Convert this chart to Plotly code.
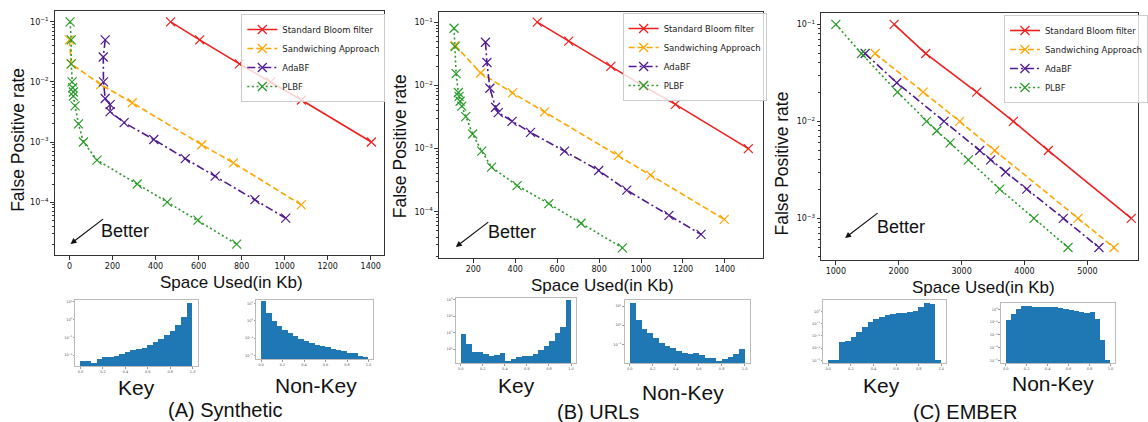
import plotly.graph_objects as go

W, H = 1148, 422

# ---------------- data ----------------
fpr_bloom = [0.1, 0.05, 0.02, 0.01, 0.005, 0.001]

# (A) Synthetic
a_bloom_x = [470, 605, 790, 935, 1078, 1403]
a_sand_x = [0, 8, 146, 292, 615, 762, 1077]
a_sand_y = [0.05, 0.02, 0.009, 0.0045, 0.0009, 0.00045, 0.00009]
a_ada_x = [166, 157, 158, 166, 189, 189, 254, 392, 538, 677, 862, 1005]
a_ada_y = [0.05, 0.026, 0.01, 0.0053, 0.0042, 0.0032, 0.0021, 0.0011, 0.00053, 0.00027, 0.00011, 0.000054]
a_plbf_x = [3, 8, 8, 12, 15, 18, 18, 26, 42, 65, 128, 315, 454, 597, 777]
a_plbf_y = [0.1, 0.05, 0.02, 0.01, 0.008, 0.0068, 0.0058, 0.004, 0.002, 0.001, 0.0005, 0.0002, 0.0001, 0.00005, 0.00002]

# (B) URLs
b_bloom_x = [505, 655, 856, 1006, 1164, 1512]
b_sand_x = [113, 235, 387, 540, 892, 1046, 1397]
b_sand_y = [0.043, 0.0157, 0.0076, 0.0038, 0.00078, 0.00038, 0.000076]
b_ada_x = [258, 265, 279, 306, 319, 385, 473, 635, 798, 932, 1133, 1286]
b_ada_y = [0.048, 0.023, 0.009, 0.0045, 0.0037, 0.0027, 0.0018, 0.00091, 0.00045, 0.00022, 0.000088, 0.000044]
b_plbf_x = [108, 113, 118, 129, 132, 137, 145, 164, 197, 240, 287, 409, 560, 714, 911]
b_plbf_y = [0.08, 0.041, 0.0153, 0.0077, 0.0067, 0.0056, 0.0047, 0.0032, 0.0017, 0.00091, 0.00051, 0.00026, 0.000135, 0.000066, 0.000027]

# (C) EMBER
c_bloom_x = [1927, 2430, 3240, 3823, 4379, 5698]
c_sand_x = [1625, 2388, 2970, 3526, 4851, 5423]
c_sand_y = [0.05, 0.02, 0.01, 0.005, 0.001, 0.0005]
c_ada_x = [1466, 1969, 2721, 3288, 3463, 3701, 4035, 4617, 5184]
c_ada_y = [0.05, 0.025, 0.01, 0.005, 0.004, 0.003, 0.002, 0.001, 0.0005]
c_plbf_x = [1000, 1408, 1980, 2441, 2605, 2817, 3108, 3606, 4151, 4692]
c_plbf_y = [0.1, 0.05, 0.02, 0.01, 0.008, 0.006, 0.004, 0.002, 0.001, 0.0005]

# score histograms (20 bins on [0, 1], density, log scale)
hist_bins = [0.025 + 0.05 * i for i in range(20)]
hist_a_key = [0.0048, 0.0044, 0.0034, 0.0059, 0.0074, 0.0074, 0.0092, 0.0114, 0.0142, 0.0184,
              0.0228, 0.026, 0.037, 0.052, 0.081, 0.135, 0.24, 0.50, 1.48, 8.3]
hist_a_nonkey = [14, 2.75, 1.0, 0.51, 0.30, 0.195, 0.125, 0.087, 0.064, 0.051,
                 0.041, 0.033, 0.029, 0.024, 0.021, 0.017, 0.0136, 0.0136, 0.0096, 0.0077]
hist_b_key = [7.9, 2.0, 0.66, 0.72, 0.54, 0.37, 0.47, 0.60, 0.20, 0.27,
              0.34, 0.37, 0.39, 0.54, 0.83, 1.5, 3.1, 10, 21, 1000]
hist_b_nonkey = [15, 1.8, 0.66, 0.40, 0.21, 0.12, 0.081, 0.066, 0.045, 0.036,
                 0.032, 0.036, 0.026, 0.019, 0.019, 0.013, 0.016, 0.021, 0.030, 0.059]
hist_c_key = [1e-4, 1e-4, 0.0032, 0.0036, 0.0083, 0.021, 0.055, 0.126, 0.23, 0.36,
              0.50, 0.60, 0.69, 0.72, 0.93, 1.12, 2.1, 5.1, 4.0, 1e-4]
hist_c_nonkey = [0.155, 0.41, 1.12, 1.95, 1.70, 1.51, 1.51, 1.62, 1.51, 1.51,
                 1.26, 1.0, 0.83, 0.79, 0.66, 0.55, 0.59, 0.19, 0.0037, 0.0001]

series_names = ["Standard Bloom filter", "Sandwiching Approach", "AdaBF", "PLBF"]
panel_titles = ["(A) Synthetic", "(B) URLs", "(C) EMBER"]

# ---------------- style ----------------
COLORS = ["#f01e1e", "#ffa500", "#4f1a8f", "#2a9a2a"]
DASHES = ["solid", "6px,3px", "8px,3px,2px,3px", "2px,2.6px"]
TICKFONT = dict(family="DejaVu Sans", size=8, color="#111")
BIGFONT = "Liberation Sans, Arial, sans-serif"


def dx(a, b):
    return [a / W, b / W]


def dy(top, bottom):
    return [1 - bottom / H, 1 - top / H]


panels = [
    dict(xd=dx(55, 387), yd=dy(11, 255), xr=[-69, 1463], yr=[-4.88, -0.82],
         xt=[0, 200, 400, 600, 800, 1000, 1200, 1400], yt=[-4, -3, -2, -1],
         data=[(a_bloom_x, fpr_bloom), (a_sand_x, a_sand_y), (a_ada_x, a_ada_y), (a_plbf_x, a_plbf_y)],
         leg=(243, 14), ylab=(18, 140), xlab=(233, 282),
         arrow=((71, 244), (105, 218)), better=(126, 231)),
    dict(xd=dx(442, 768), yd=dy(12, 258), xr=[36, 1580], yr=[-4.73, -0.84],
         xt=[200, 400, 600, 800, 1000, 1200, 1400], yt=[-4, -3, -2, -1],
         data=[(b_bloom_x, fpr_bloom), (b_sand_x, b_sand_y), (b_ada_x, b_ada_y), (b_plbf_x, b_plbf_y)],
         leg=(627, 13), ylab=(403, 146), xlab=(607, 285),
         arrow=((459, 247), (493, 221)), better=(516, 232)),
    dict(xd=dx(827, 1146), yd=dy(13, 260), xr=[768, 5805], yr=[-3.43, -0.883],
         xt=[1000, 2000, 3000, 4000, 5000], yt=[-3, -2, -1],
         data=[(c_bloom_x, fpr_bloom), (c_sand_x, c_sand_y), (c_ada_x, c_ada_y), (c_plbf_x, c_plbf_y)],
         leg=(1011, 15), ylab=(787, 164), xlab=(990, 287),
         arrow=((851, 238), (885, 212)), better=(907, 227)),
]

hists = [
    dict(vals=hist_a_key, xd=dx(76, 199), yd=dy(300, 366), yr=[-2.62, 1.11], lab="Key", lp=(137, 387)),
    dict(vals=hist_a_nonkey, xd=dx(258, 376), yd=dy(300, 359), yr=[-2.21, 1.19], lab="Non-Key", lp=(318, 385)),
    dict(vals=hist_b_key, xd=dx(459, 580), yd=dy(298, 363), yr=[-0.84, 3.10], lab="Key", lp=(520, 385)),
    dict(vals=hist_b_nonkey, xd=dx(629, 755), yd=dy(300, 363), yr=[-1.98, 1.32], lab="Non-Key", lp=(688, 392)),
    dict(vals=hist_c_key, xd=dx(829, 953), yd=dy(300, 363), yr=[-4.22, 0.93], lab="Key", lp=(888, 385)),
    dict(vals=hist_c_nonkey, xd=dx(1008, 1123), yd=dy(303, 363), yr=[-4.2, 0.5], lab="Non-Key", lp=(1060, 383)),
]
title_pos = [(227, 410), (602, 412), (972, 412)]

fig = go.Figure()
layout = {}
annotations = []


def sup(k):
    return "10<sup>" + ("\u2212" + str(-k) if k < 0 else str(k)) + "</sup>"


def text_ann(text, pos, size, angle=0):
    return dict(text=text, x=pos[0] / W, y=1 - pos[1] / H, xref="paper", yref="paper",
                xanchor="center", yanchor="middle", showarrow=False, textangle=angle,
                font=dict(family=BIGFONT, size=size, color="#111"))


for i, p in enumerate(panels):
    n = i + 1
    xa = "x" if n == 1 else f"x{n}"
    ya = "y" if n == 1 else f"y{n}"
    legname = "legend" if n == 1 else f"legend{n}"
    for j, (xs, ys) in enumerate(p["data"]):
        fig.add_trace(go.Scatter(
            x=xs, y=ys, xaxis=xa, yaxis=ya, name=series_names[j], mode="lines+markers",
            line=dict(color=COLORS[j], width=1.6, dash=DASHES[j]),
            marker=dict(symbol="x-thin", size=9, line=dict(width=1.2, color=COLORS[j]), color=COLORS[j]),
            legend=legname, showlegend=True))
    minor_vals = [m * 10 ** k for k in range(-6, 1) for m in range(2, 10)]
    layout["xaxis" if n == 1 else f"xaxis{n}"] = dict(
        domain=p["xd"], range=p["xr"], anchor=ya, showgrid=False, zeroline=False,
        showline=True, mirror=True, linecolor="#333", linewidth=1,
        ticks="outside", ticklen=3.5, tickcolor="#333", tickvals=p["xt"],
        ticktext=[str(v) for v in p["xt"]], tickfont=TICKFONT)
    layout["yaxis" if n == 1 else f"yaxis{n}"] = dict(
        domain=p["yd"], type="log", range=p["yr"], anchor=xa, showgrid=False, zeroline=False,
        showline=True, mirror=True, linecolor="#333", linewidth=1,
        ticks="outside", ticklen=3.5, tickcolor="#333",
        tickvals=[10 ** k for k in p["yt"]], ticktext=[sup(k) for k in p["yt"]], tickfont=TICKFONT,
        minor=dict(ticks="outside", ticklen=2, tickcolor="#333", tickvals=minor_vals, showgrid=False))
    layout[legname] = dict(
        x=p["leg"][0] / W, y=1 - p["leg"][1] / H, xanchor="left", yanchor="top",
        bgcolor="rgba(255,255,255,0.8)", bordercolor="#cccccc", borderwidth=1,
        font=dict(family="DejaVu Sans", size=8.5, color="#222"), tracegroupgap=0)
    annotations.append(text_ann("False Positive rate", p["ylab"], 17.5, -90))
    annotations.append(text_ann("Space Used(in Kb)", p["xlab"], 17))
    (hx, hy), (tx, ty) = p["arrow"]
    annotations.append(dict(text="", x=hx / W, y=1 - hy / H, xref="paper", yref="paper",
                            showarrow=True, ax=tx - hx, ay=ty - hy, arrowhead=2, arrowsize=1,
                            arrowwidth=1.2, arrowcolor="#111"))
    annotations.append(text_ann("Better", p["better"], 18))
    annotations.append(text_ann(panel_titles[i], title_pos[i], 20))

for i, h in enumerate(hists):
    n = i + 4
    xa, ya = f"x{n}", f"y{n}"
    fig.add_trace(go.Bar(x=hist_bins, y=h["vals"], width=0.05, xaxis=xa, yaxis=ya,
                         marker=dict(color="#1f77b4", line=dict(width=0)), showlegend=False))
    lo, hi = h["yr"]
    decs = list(range(int(-(-lo // 1)), int(hi // 1) + 1))
    layout[f"xaxis{n}"] = dict(domain=h["xd"], range=[-0.045, 1.045], anchor=ya, showgrid=False,
                               zeroline=False, showline=True, mirror=True, linecolor="#bbbbbb",
                               linewidth=1, ticks="outside", ticklen=1.5, tickcolor="#999",
                               tickvals=[0, 0.2, 0.4, 0.6, 0.8, 1.0],
                               ticktext=["0.0", "0.2", "0.4", "0.6", "0.8", "1.0"],
                               tickfont=dict(family="DejaVu Sans", size=3.5, color="#555"))
    layout[f"yaxis{n}"] = dict(domain=h["yd"], type="log", range=h["yr"], anchor=xa, showgrid=False,
                               zeroline=False, showline=True, mirror=True, linecolor="#bbbbbb",
                               linewidth=1, ticks="outside", ticklen=1.5, tickcolor="#999",
                               tickvals=[10 ** k for k in decs], ticktext=[sup(k) for k in decs],
                               tickfont=dict(family="DejaVu Sans", size=3.5, color="#555"))
    annotations.append(text_ann(h["lab"], h["lp"], 21))

fig.update_layout(width=W, height=H, margin=dict(l=0, r=0, t=0, b=0),
                  paper_bgcolor="white", plot_bgcolor="white", bargap=0,
                  annotations=annotations, **layout)

fig.write_html("out.html", config={"displayModeBar": False},
               post_script="document.body.style.margin='0px';")
